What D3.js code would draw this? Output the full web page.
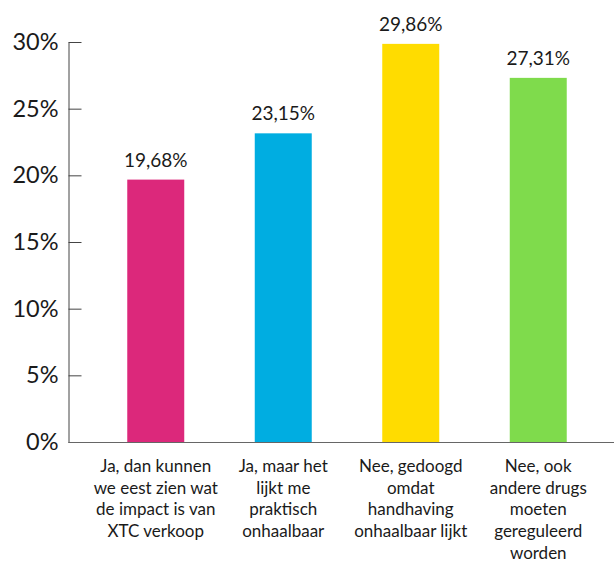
<!DOCTYPE html>
<html>
<head>
<meta charset="utf-8">
<script src="https://cdn.jsdelivr.net/npm/d3@7"></script>
<style>
  body { margin: 0; background: #fff; }
  svg { display: block; font-family: "Lato", "Open Sans", sans-serif; }
</style>
</head>
<body>
<svg id="chart" width="614" height="562"></svg>
<script>
// Survey answers (one bar per answer) and their share of respondents, in %
const categories = [
  ["Ja, dan kunnen", "we eest zien wat", "de impact is van", "XTC verkoop"],
  ["Ja, maar het", "lijkt me", "praktisch", "onhaalbaar"],
  ["Nee, gedoogd", "omdat", "handhaving", "onhaalbaar lijkt"],
  ["Nee, ook", "andere drugs", "moeten", "gereguleerd", "worden"]
];
const values = [19.68, 23.15, 29.86, 27.31];
const barColors = ["#DC287B", "#00ADE1", "#FFDC00", "#7FDB4C"];
const yTicks = [0, 5, 10, 15, 20, 25, 30];

const svg = d3.select("#chart");
const axisX = 68.5, y0 = 442, y1 = 42;

const x = d3.scaleBand()
  .domain(d3.range(values.length))
  .range([92, 602])
  .paddingInner(0.553)
  .paddingOuter(0.2765);

const y = d3.scaleLinear().domain([0, 30]).range([y0, y1]);

const fmt = v => d3.format(".2f")(v).replace(".", ",") + "%";

// bars
svg.append("g").selectAll("rect")
  .data(values)
  .join("rect")
  .attr("x", (d, i) => x(i))
  .attr("y", d => y(d))
  .attr("width", x.bandwidth())
  .attr("height", d => y0 - y(d))
  .attr("fill", (d, i) => barColors[i]);

// value labels above bars
svg.append("g").selectAll("text")
  .data(values)
  .join("text")
  .attr("x", (d, i) => x(i) + x.bandwidth() / 2)
  .attr("y", d => y(d) - 13)
  .attr("text-anchor", "middle")
  .attr("font-size", 19)
  .attr("fill", "#1a1a1a")
  .text(fmt);

// y axis with inward ticks
const yAxis = d3.axisLeft(y)
  .tickValues(yTicks)
  .tickFormat(d => d + "%")
  .tickSizeInner(-13)
  .tickSizeOuter(0)
  .tickPadding(10);

const gy = svg.append("g")
  .attr("transform", `translate(${axisX},0)`)
  .call(yAxis);
gy.select(".domain").attr("stroke", "#444");
gy.selectAll(".tick line").attr("stroke", "#444");
gy.selectAll(".tick text")
  .attr("font-size", 23.5)
  .attr("font-family", "Lato, 'Open Sans', sans-serif")
  .attr("fill", "#1a1a1a");

// baseline
svg.append("line")
  .attr("x1", axisX).attr("x2", 614)
  .attr("y1", y0 + 0.5).attr("y2", y0 + 0.5)
  .attr("stroke", "#666");

// category labels
const cat = svg.append("g").selectAll("text")
  .data(categories)
  .join("text")
  .attr("text-anchor", "middle")
  .attr("font-size", 17)
  .attr("fill", "#1a1a1a");
cat.selectAll("tspan")
  .data((d, i) => d.map(line => ({ line, i })))
  .join("tspan")
  .attr("x", d => x(d.i) + x.bandwidth() / 2)
  .attr("y", (d, j) => 472 + j * 21.7)
  .text(d => d.line);
</script>
</body>
</html>
